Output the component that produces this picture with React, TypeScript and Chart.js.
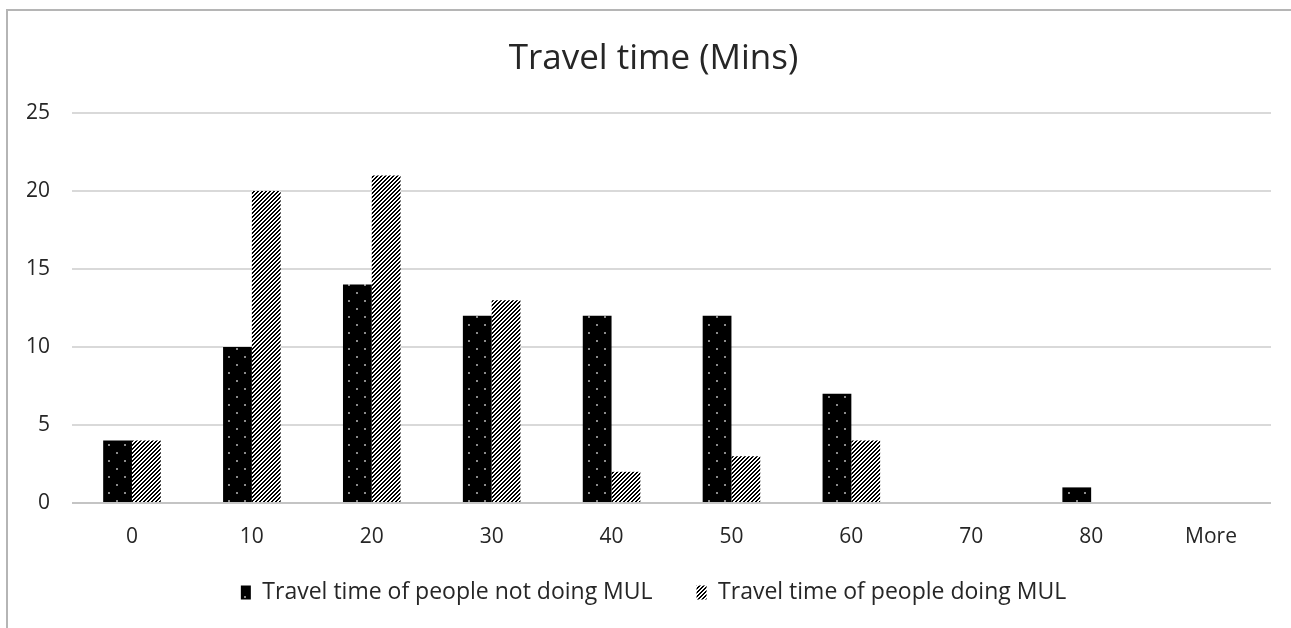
import React, { useEffect, useRef } from "react";
import { Chart, registerables } from "chart.js";

Chart.register(...registerables);

const categories = ["0", "10", "20", "30", "40", "50", "60", "70", "80", "More"];
const notDoingMUL = [4, 10, 14, 12, 12, 12, 7, 0, 1, 0];
const doingMUL = [4, 20, 21, 13, 2, 3, 4, 0, 0, 0];
const yTicks = [0, 5, 10, 15, 20, 25];

const FONT = "'Open Sans', Lato, sans-serif";
const LEGEND_HEIGHT = 81;
const LEGEND_LIFT = 10;
const X_AXIS_HEIGHT = 44;
const HEADER_SHIFT = 18;

// Black fill with a sparse grid of pale dots
function makeDotPattern(ctx: CanvasRenderingContext2D): CanvasPattern | string {
  const c = document.createElement("canvas");
  c.width = 16;
  c.height = 16;
  const g = c.getContext("2d");
  if (!g) return "#000";
  g.fillStyle = "#000";
  g.fillRect(0, 0, 16, 16);
  g.fillStyle = "#8a8a8a";
  g.fillRect(4, 4, 2, 2);
  g.fillRect(12, 12, 2, 2);
  return ctx.createPattern(c, "repeat") || "#000";
}

// White fill with forward diagonal black stripes
function makeHatchPattern(ctx: CanvasRenderingContext2D): CanvasPattern | string {
  const n = 4;
  const c = document.createElement("canvas");
  c.width = n;
  c.height = n;
  const g = c.getContext("2d");
  if (!g) return "#000";
  g.fillStyle = "#fff";
  g.fillRect(0, 0, n, n);
  g.fillStyle = "#000";
  for (let x = 0; x < n; x++) {
    for (let y = 0; y < n; y++) {
      const k = (x + y) % n;
      if (k === 0 || k === 1) g.fillRect(x, y, 1, 1);
    }
  }
  return ctx.createPattern(c, "repeat") || "#000";
}

// Gray frame along the top and left edges
const frame = {
  id: "frame",
  afterDraw(chart: Chart) {
    const ctx = chart.ctx;
    ctx.save();
    ctx.strokeStyle = "#b5b5b5";
    ctx.lineWidth = 2;
    ctx.beginPath();
    ctx.moveTo(7, chart.height + 2);
    ctx.lineTo(7, 10);
    ctx.lineTo(chart.width + 2, 10);
    ctx.stroke();
    ctx.restore();
  },
};

// Keep the legend's wide horizontal item spacing without its tall box,
// and centre the title and legend on the full frame width
const headerLayout = {
  id: "headerLayout",
  beforeLayout(chart: any) {
    const lg = chart.legend;
    if (lg && !lg.__compact) {
      const fit = lg.fit.bind(lg);
      lg.fit = function () {
        fit();
        this.height = LEGEND_HEIGHT;
      };
      lg.__compact = true;
    }
  },
  afterLayout(chart: any) {
    const lg = chart.legend;
    if (lg) {
      lg.top -= LEGEND_LIFT;
      lg.bottom -= LEGEND_LIFT;
      lg.left += HEADER_SHIFT;
      lg.right += HEADER_SHIFT;
    }
    const tb = chart.titleBlock;
    if (tb) {
      tb.left += HEADER_SHIFT;
      tb.right += HEADER_SHIFT;
    }
  },
};

export default function App() {
  const ref = useRef<HTMLCanvasElement | null>(null);

  useEffect(() => {
    const canvas = ref.current;
    if (!canvas) return;
    const ctx = canvas.getContext("2d");
    if (!ctx) return;
    const dots = makeDotPattern(ctx);
    const hatch = makeHatchPattern(ctx);

    const chart = new Chart(canvas, {
      type: "bar",
      data: {
        labels: categories,
        datasets: [
          {
            label: "Travel time of people not doing MUL",
            data: notDoingMUL,
            backgroundColor: dots as any,
            borderWidth: 0,
          },
          {
            label: "Travel time of people doing MUL",
            data: doingMUL,
            backgroundColor: hatch as any,
            borderWidth: 0,
          },
        ],
      },
      options: {
        responsive: false,
        animation: false,
        layout: { padding: { left: 0, right: 20, top: 0, bottom: 0 } },
        datasets: {
          bar: { barPercentage: 1, categoryPercentage: 0.48 },
        },
        plugins: {
          title: {
            display: true,
            text: "Travel time (Mins)",
            color: "#262626",
            font: { family: FONT, size: 35, weight: "normal" },
            padding: { top: 38, bottom: 33 },
          },
          legend: {
            position: "bottom",
            labels: {
              color: "#262626",
              font: { family: FONT, size: 23 },
              boxWidth: 10,
              boxHeight: 14,
              padding: 44,
            },
          },
          tooltip: { enabled: false },
        },
        scales: {
          x: {
            afterFit(scale: any) {
              scale.height = X_AXIS_HEIGHT;
            },
            grid: { display: false, drawTicks: false },
            border: { display: false },
            ticks: {
              color: "#262626",
              font: { family: FONT, size: 21 },
              padding: 21,
              maxRotation: 0,
            },
          },
          y: {
            min: 0,
            max: 25,
            afterFit(scale: any) {
              scale.width = 72;
            },
            afterBuildTicks(scale: any) {
              scale.ticks = yTicks.map((v) => ({ value: v }));
            },
            grid: {
              drawTicks: false,
              lineWidth: 2,
              color: (c: any) => (c.tick && c.tick.value === 0 ? "#c4c4c4" : "#d9d9d9"),
            },
            border: { display: false },
            ticks: {
              color: "#262626",
              font: { family: FONT, size: 21 },
              padding: 22,
            },
          },
        },
      },
      plugins: [frame, headerLayout],
    });

    return () => chart.destroy();
  }, []);

  return (
    <div style={{ position: "fixed", left: 0, top: 0, width: 1291, height: 628, background: "#fff" }}>
      <canvas ref={ref} width={1291} height={628} style={{ display: "block" }} />
    </div>
  );
}
